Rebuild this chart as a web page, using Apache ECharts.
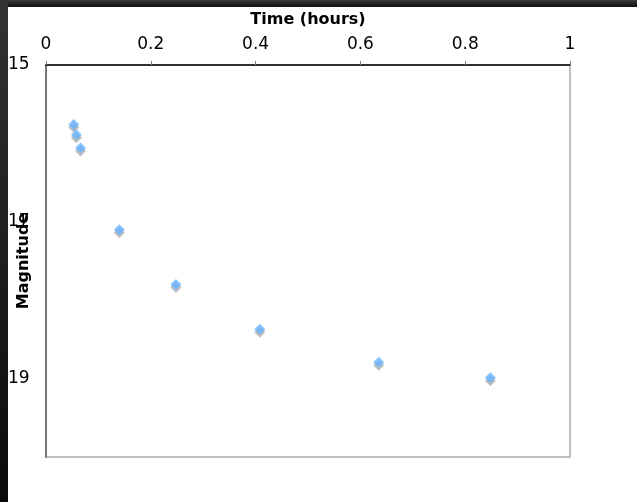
<!DOCTYPE html>
<html>
<head>
<meta charset="utf-8">
<script src="https://cdn.jsdelivr.net/npm/echarts@6/dist/echarts.min.js"></script>
<style>
  html, body { margin: 0; padding: 0; background: #fff; }
  #chart { width: 637px; height: 502px; }
</style>
</head>
<body>
<div id="chart"></div>
<script>
// light curve: time since trigger vs. magnitude
var timeHours = [0.053, 0.058, 0.066, 0.140, 0.248, 0.408, 0.635, 0.848]
var magnitude = [15.76, 15.89, 16.06, 17.10, 17.80, 18.37, 18.79, 18.99]
var magLabels = [15, 17, 19]

var points = timeHours.map(function (t, i) { return [t, magnitude[i]] })

var chart = echarts.init(document.getElementById('chart'))
chart.setOption({
  backgroundColor: '#fff',
  animation: false,
  textStyle: { fontFamily: 'DejaVu Sans' },
  grid: {
    left: 46,
    top: 65,
    right: 67,
    bottom: 45,
    containLabel: false,
    outerBoundsMode: 'none',
    show: true,
    borderColor: '#c0c0c0',
    borderWidth: 2
  },
  // dark frame along the top and left edge
  graphic: [
    {
      type: 'rect', silent: true, z: -10,
      shape: { x: 0, y: 0, width: 637, height: 7 },
      style: { fill: new echarts.graphic.LinearGradient(0, 0, 0, 1, [
        { offset: 0, color: '#3a3a3a' }, { offset: 1, color: '#111' }
      ]) }
    },
    {
      type: 'rect', silent: true, z: -10,
      shape: { x: 0, y: 0, width: 8, height: 502 },
      style: { fill: new echarts.graphic.LinearGradient(0, 0, 0, 1, [
        { offset: 0, color: '#333' }, { offset: 1, color: '#0a0a0a' }
      ]) }
    }
  ],
  xAxis: {
    type: 'value',
    position: 'top',
    min: 0,
    max: 1,
    interval: 0.2,
    name: 'Time (hours)',
    nameLocation: 'middle',
    nameGap: 37,
    nameMoveOverlap: false,
    nameTextStyle: { fontSize: 16, fontWeight: 'bold', color: '#000' },
    axisLine: { show: true, lineStyle: { color: '#000', width: 1.5 } },
    axisTick: { show: true, inside: false, length: 4, lineStyle: { color: '#808080' } },
    axisLabel: { fontSize: 17, color: '#000', margin: 12 },
    splitLine: { show: false }
  },
  yAxis: {
    type: 'value',
    inverse: true,
    min: 15,
    max: 20,
    interval: 1,
    name: 'Magnitude',
    nameLocation: 'middle',
    nameGap: 14,
    nameMoveOverlap: false,
    nameTextStyle: { fontSize: 16, fontWeight: 'bold', color: '#000' },
    axisLine: { show: true, lineStyle: { color: '#777', width: 2 } },
    axisTick: { show: false },
    axisLabel: {
      fontSize: 17,
      color: '#000',
      align: 'left',
      margin: 38,
      formatter: function (v) { return magLabels.indexOf(v) >= 0 ? String(v) : '' }
    },
    splitLine: { show: false }
  },
  series: [{
    type: 'scatter',
    data: points,
    symbol: 'diamond',
    symbolSize: 11,
    itemStyle: {
      color: '#66b0ff',
      shadowColor: 'rgba(150,150,150,0.75)',
      shadowOffsetX: 0,
      shadowOffsetY: 3,
      shadowBlur: 0
    }
  }]
})
</script>
</body>
</html>
